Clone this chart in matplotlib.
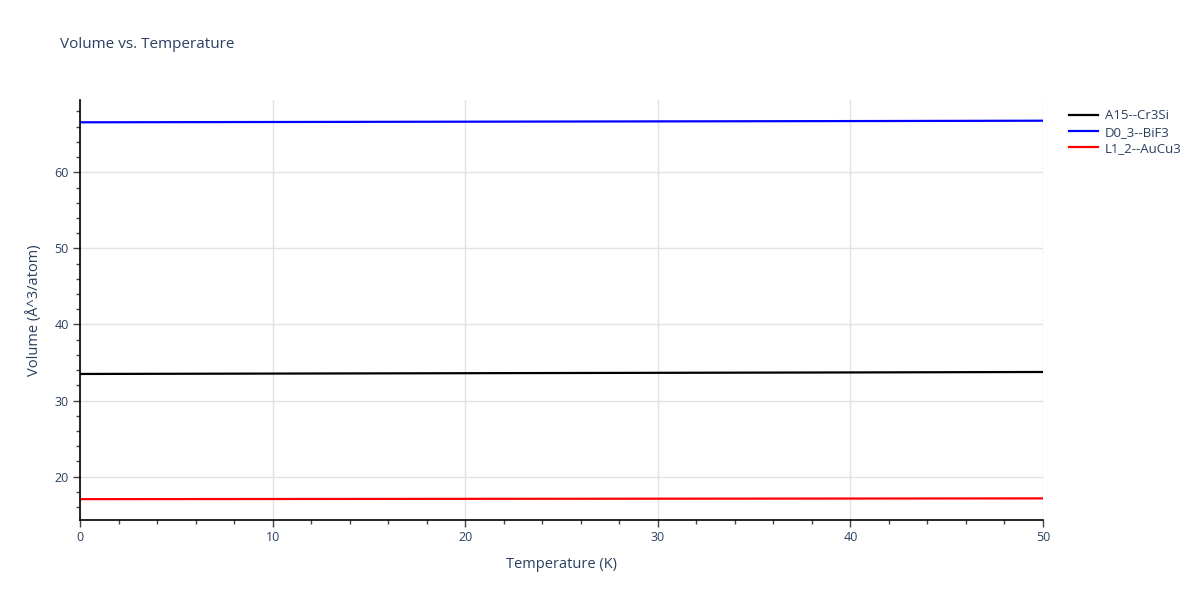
import matplotlib
matplotlib.use('Agg')
import matplotlib.pyplot as plt
from matplotlib.ticker import MultipleLocator

plt.rcParams['font.family'] = ['Open Sans', 'DejaVu Sans']

# Данные
temperature = [0, 10, 20, 30, 40, 50]
vol_a15 = [33.50, 33.55, 33.60, 33.65, 33.70, 33.76]
vol_d03 = [66.57, 66.61, 66.65, 66.69, 66.73, 66.78]
vol_l12 = [17.05, 17.07, 17.09, 17.11, 17.13, 17.15]

names = ['A15--Cr3Si', 'D0_3--BiF3', 'L1_2--AuCu3']
colors = ['black', 'blue', 'red']
txt = '#2a3f5f'

fig = plt.figure(figsize=(12, 6), dpi=100)
ax = fig.add_axes([80 / 1200, 80 / 600, 963 / 1200, 420 / 600])

for y, name, c in zip([vol_a15, vol_d03, vol_l12], names, colors):
    ax.plot(temperature, y, color=c, linewidth=1.6, label=name)

ax.set_xlim(0, 50)
ax.set_ylim(14.31, 69.5)
ax.xaxis.set_major_locator(MultipleLocator(10))
ax.xaxis.set_minor_locator(MultipleLocator(2))
ax.yaxis.set_major_locator(MultipleLocator(10))
ax.yaxis.set_minor_locator(MultipleLocator(2))
ax.set_yticks([20, 30, 40, 50, 60])

ax.grid(True, which='major', color='#e2e2e2', linewidth=1)
ax.set_axisbelow(True)
for s in ['top', 'right']:
    ax.spines[s].set_visible(False)
for s in ['left', 'bottom']:
    ax.spines[s].set_color('black')
    ax.spines[s].set_linewidth(1.2)

ax.tick_params(which='major', length=5, width=1, color='#444444',
               labelsize=9, labelcolor=txt, pad=3)
ax.tick_params(which='minor', length=3, width=1, color='#444444')

ax.set_xlabel('Temperature (K)', fontsize=10.5, color=txt, labelpad=9)
ax.set_ylabel('Volume (Å^3/atom)', fontsize=10.5, color=txt, labelpad=9)
fig.text(60 / 1200, 1 - 45 / 600, 'Volume vs. Temperature', fontsize=11,
         color=txt, va='center', ha='left')

fig.legend(loc='upper left', bbox_to_anchor=(1064 / 1200, 1 - 104 / 600),
           frameon=False, fontsize=9.5, labelcolor=txt, handlelength=2.2,
           handletextpad=0.5, labelspacing=0.25, borderaxespad=0)

fig.savefig('out.png', dpi=100)
